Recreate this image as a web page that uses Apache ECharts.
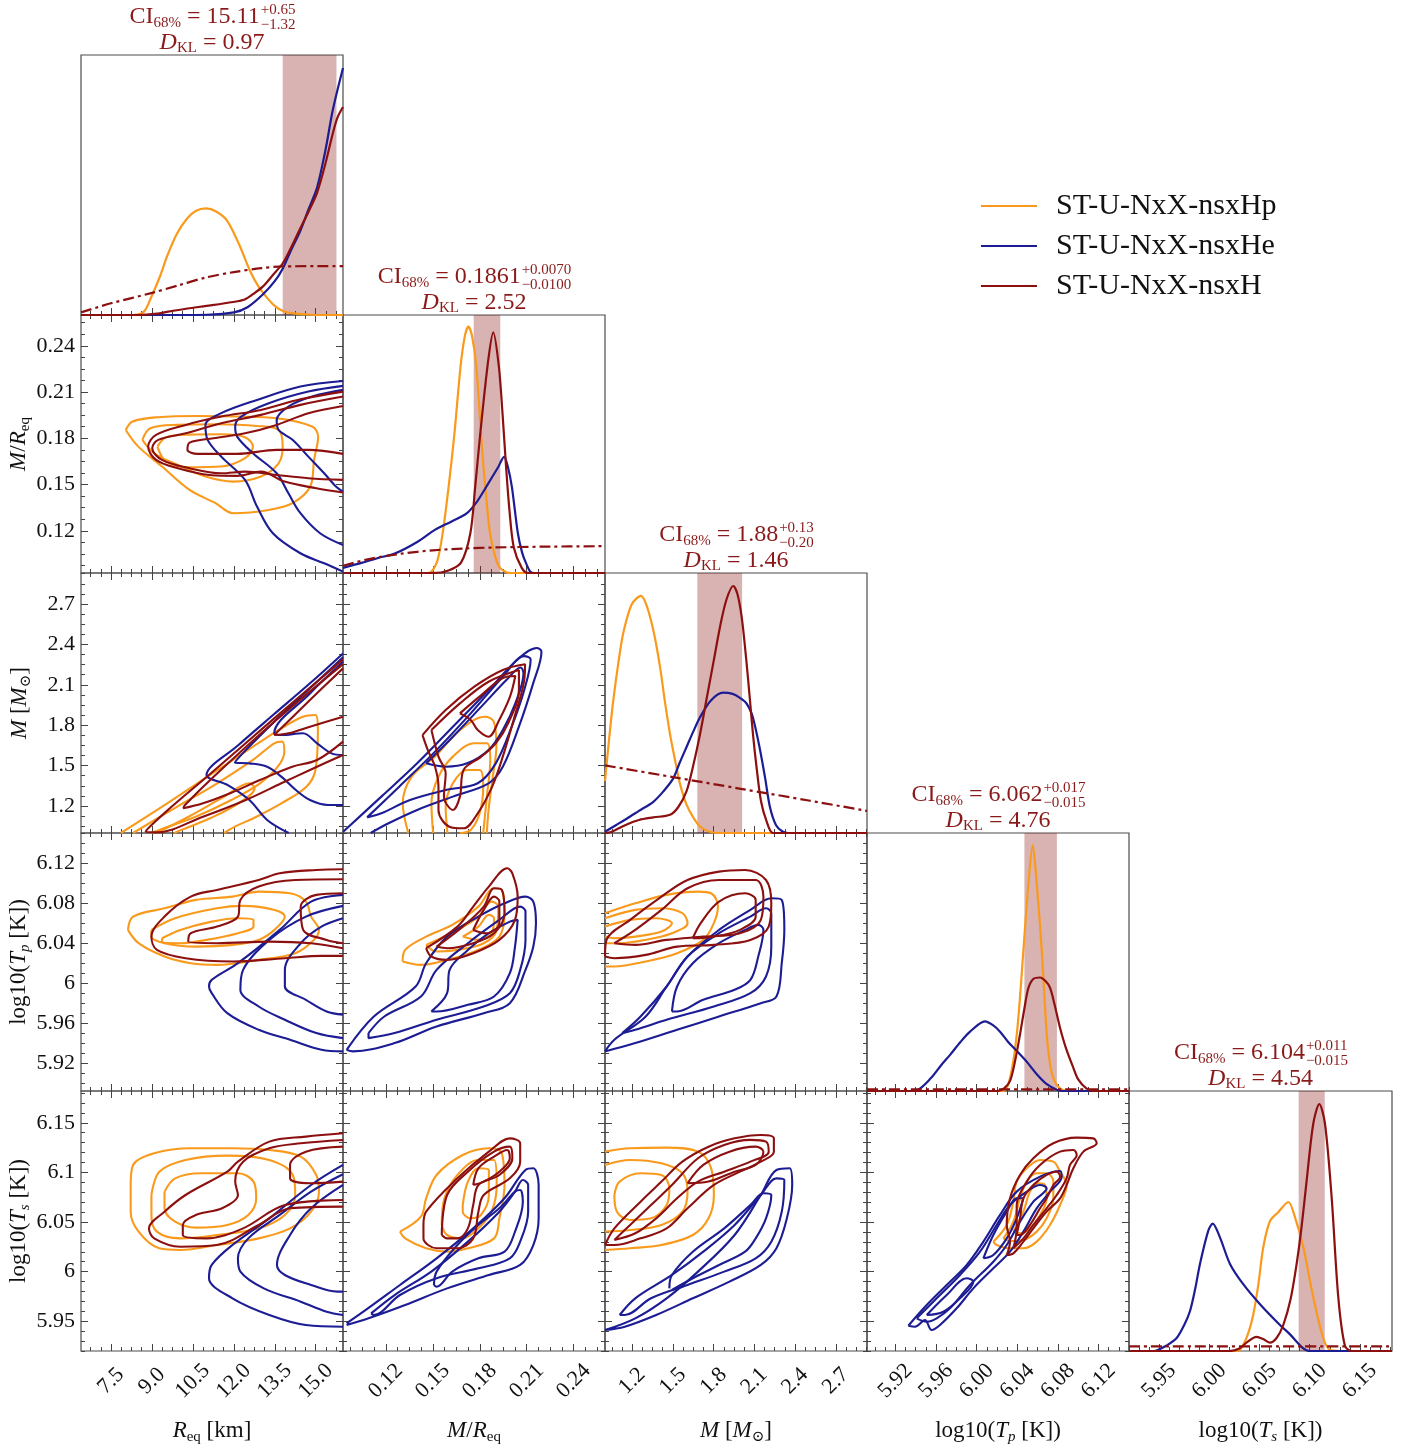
<!DOCTYPE html>
<html>
<head>
<meta charset="utf-8">
<script src="https://cdn.jsdelivr.net/npm/echarts@6/dist/echarts.min.js"></script>
<style>
  html, body { margin: 0; padding: 0; background: #ffffff; }
  #chart { width: 1413px; height: 1449px; }
</style>
</head>
<body>
<div id="chart"></div>
<script>
// ---------------------------------------------------------------------------
// Parameters: 0 R_eq, 1 M/R_eq, 2 M, 3 log10(Tp), 4 log10(Ts)
// ---------------------------------------------------------------------------
const NAMES = ['ST-U-NxX-nsxHp', 'ST-U-NxX-nsxHe', 'ST-U-NxX-nsxH'];
const COLORS = ['#f99a1c', '#1c1c94', '#8c1010'];
const PRIOR_COLOR = '#8c1010';
const TITLE_COLOR = '#8a1a1a';

const axisMin = [6.4, 0.0926, 1.0, 5.892, 5.92];
const axisMax = [16.0, 0.26, 2.93, 6.15, 6.182];

const ticksReq  = [7.5, 9.0, 10.5, 12.0, 13.5, 15.0];
const ticksMr   = [0.12, 0.15, 0.18, 0.21, 0.24];
const ticksMass = [1.2, 1.5, 1.8, 2.1, 2.4, 2.7];
const ticksTp   = [5.92, 5.96, 6.00, 6.04, 6.08, 6.12];
const ticksTs   = [5.95, 6.00, 6.05, 6.10, 6.15];
const minorDiv  = [4, 4, 4, 4, 5];

const bottomReq  = ['7.5', '9.0', '10.5', '12.0', '13.5', '15.0'];
const bottomMr   = ['0.12', '0.15', '0.18', '0.21', '0.24'];
const bottomMass = ['1.2', '1.5', '1.8', '2.1', '2.4', '2.7'];
const bottomTp   = ['5.92', '5.96', '6.00', '6.04', '6.08', '6.12'];
const bottomTs   = ['5.95', '6.00', '6.05', '6.10', '6.15'];
const leftMr   = ['0.12', '0.15', '0.18', '0.21', '0.24'];
const leftMass = ['1.2', '1.5', '1.8', '2.1', '2.4', '2.7'];
const leftTp   = ['5.92', '5.96', '6', '6.04', '6.08', '6.12'];
const leftTs   = ['5.95', '6', '6.05', '6.1', '6.15'];

const axisTitles = [
  '{i|R}{s|eq} [km]',
  '{i|M}/{i|R}{s|eq}',
  '{i|M} [{i|M}{s|\u2299}]',
  'log10({i|T}{si|p} [K])',
  'log10({i|T}{si|s} [K])'
];

// 68% credible intervals and KL divergences shown above each marginal
const ciCentre = ['15.11', '0.1861', '1.88', '6.062', '6.104'];
const ciPlus   = ['0.65', '0.0070', '0.13', '0.017', '0.011'];
const ciMinus  = ['1.32', '0.0100', '0.20', '0.015', '0.015'];
const dklText  = ['0.97', '2.52', '1.46', '4.76', '4.54'];

// ---------------------------------------------------------------------------
// 1D marginal densities (height relative to panel)
// ---------------------------------------------------------------------------
const pdfReq_Hp = [[6.4,0],[8.3,0],[8.7,0.012],[9.0,0.075],[9.3,0.15],[9.55,0.225],[9.9,0.31],[10.28,0.37],[10.6,0.40],[10.98,0.41],[11.35,0.398],[11.75,0.363],[12.2,0.27],[12.59,0.17],[12.9,0.11],[13.22,0.066],[13.5,0.035],[13.8,0.015],[14.2,0.006],[14.68,0.002],[15.2,0],[16.0,0]];
const pdfReq_He = [[6.4,0],[10.0,0],[11.0,0.001],[12.0,0.01],[12.5,0.03],[13.07,0.08],[13.5,0.13],[13.8,0.18],[14.1,0.25],[14.42,0.32],[14.75,0.41],[15.05,0.49],[15.35,0.63],[15.63,0.79],[16.0,0.95]];
const pdfReq_H  = [[6.4,0],[8.5,0],[9.2,0.005],[9.55,0.012],[10.3,0.025],[11.0,0.035],[11.97,0.05],[12.4,0.06],[12.7,0.08],[13.07,0.11],[13.4,0.15],[13.8,0.2],[14.1,0.26],[14.42,0.33],[14.75,0.40],[15.05,0.47],[15.35,0.58],[15.63,0.70],[15.8,0.76],[16.0,0.80]];
const priorReq  = [[6.4,0.01],[7.5,0.045],[9.0,0.085],[10.0,0.115],[11.0,0.145],[12.0,0.165],[13.0,0.18],[13.8,0.187],[16.0,0.188]];

const pdfMr_Hp = [[0.0926,0],[0.145,0],[0.149,0.005],[0.153,0.05],[0.1563,0.155],[0.160,0.33],[0.1638,0.54],[0.1677,0.80],[0.1705,0.92],[0.1727,0.955],[0.175,0.92],[0.1778,0.80],[0.1815,0.477],[0.1840,0.30],[0.1865,0.155],[0.190,0.06],[0.1929,0.02],[0.197,0.003],[0.20,0],[0.26,0]];
const pdfMr_He = [[0.0926,0.02],[0.105,0.04],[0.115,0.058],[0.126,0.076],[0.14,0.12],[0.1513,0.167],[0.162,0.20],[0.1714,0.23],[0.178,0.275],[0.1841,0.334],[0.1917,0.41],[0.1955,0.45],[0.198,0.41],[0.2005,0.334],[0.2043,0.155],[0.207,0.08],[0.2094,0.04],[0.2123,0.005],[0.215,0],[0.26,0]];
const pdfMr_H  = [[0.0926,0],[0.15,0],[0.160,0.01],[0.168,0.04],[0.174,0.155],[0.177,0.33],[0.1803,0.54],[0.1853,0.82],[0.1886,0.933],[0.1922,0.80],[0.1945,0.62],[0.1967,0.42],[0.199,0.24],[0.2017,0.10],[0.2068,0.02],[0.211,0],[0.26,0]];
const priorMr  = [[0.0926,0.028],[0.11,0.055],[0.13,0.075],[0.15,0.088],[0.17,0.095],[0.19,0.099],[0.22,0.102],[0.26,0.104]];

const pdfMass_Hp = [[1.0,0.20],[1.03,0.36],[1.061,0.51],[1.10,0.66],[1.135,0.77],[1.197,0.88],[1.265,0.912],[1.31,0.87],[1.36,0.77],[1.405,0.64],[1.44,0.51],[1.479,0.38],[1.52,0.27],[1.552,0.19],[1.60,0.11],[1.65,0.06],[1.70,0.025],[1.77,0.005],[1.85,0],[2.93,0]];
const pdfMass_He = [[1.0,0.005],[1.08,0.03],[1.16,0.055],[1.25,0.085],[1.356,0.12],[1.43,0.16],[1.503,0.21],[1.55,0.27],[1.60,0.33],[1.65,0.39],[1.70,0.445],[1.78,0.51],[1.871,0.54],[1.94,0.535],[1.994,0.52],[2.04,0.50],[2.08,0.46],[2.11,0.40],[2.142,0.32],[2.18,0.21],[2.215,0.10],[2.26,0.03],[2.31,0.005],[2.35,0],[2.93,0]];
const pdfMass_H  = [[1.0,0],[1.05,0.005],[1.16,0.033],[1.25,0.05],[1.356,0.06],[1.479,0.07],[1.54,0.10],[1.60,0.16],[1.65,0.26],[1.70,0.38],[1.75,0.52],[1.80,0.66],[1.85,0.80],[1.896,0.90],[1.945,0.95],[1.975,0.92],[2.007,0.83],[2.04,0.67],[2.068,0.51],[2.09,0.38],[2.117,0.25],[2.15,0.12],[2.19,0.046],[2.24,0],[2.93,0]];
const priorMass  = [[1.0,0.26],[1.5,0.215],[2.0,0.17],[2.5,0.125],[2.93,0.085]];

const pdfTp_Hp = [[5.892,0],[6.025,0],[6.0296,0.01],[6.035,0.09],[6.0395,0.22],[6.043,0.38],[6.046,0.545],[6.0509,0.80],[6.0552,0.953],[6.0592,0.80],[6.0641,0.545],[6.069,0.22],[6.072,0.11],[6.0755,0.05],[6.082,0.01],[6.09,0],[6.15,0]];
const pdfTp_He = [[5.892,0],[5.935,0],[5.941,0.002],[5.955,0.05],[5.965,0.10],[5.9738,0.14],[5.984,0.19],[5.9935,0.23],[6.0082,0.27],[6.016,0.255],[6.023,0.23],[6.031,0.19],[6.0395,0.155],[6.05,0.11],[6.0592,0.065],[6.068,0.03],[6.0789,0.005],[6.085,0],[6.15,0]];
const pdfTp_H  = [[5.892,0],[6.02,0],[6.027,0.01],[6.033,0.04],[6.038,0.12],[6.0427,0.22],[6.047,0.32],[6.051,0.40],[6.056,0.435],[6.0624,0.44],[6.068,0.425],[6.0723,0.40],[6.077,0.33],[6.082,0.246],[6.088,0.165],[6.0952,0.09],[6.10,0.045],[6.108,0.01],[6.115,0],[6.15,0]];
const priorTp  = [[5.892,0.006],[6.15,0.006]];

const pdfTs_Hp = [[5.92,0],[6.025,0],[6.0306,0.005],[6.038,0.06],[6.0438,0.14],[6.049,0.26],[6.0538,0.40],[6.0605,0.50],[6.0687,0.534],[6.0787,0.573],[6.0853,0.515],[6.0936,0.40],[6.1036,0.206],[6.1135,0.05],[6.12,0.005],[6.13,0],[6.182,0]];
const pdfTs_He = [[5.92,0],[5.945,0],[5.9476,0.002],[5.957,0.02],[5.9675,0.05],[5.975,0.10],[5.9808,0.154],[5.986,0.24],[5.9907,0.335],[5.999,0.463],[6.0034,0.49],[6.0106,0.437],[6.0206,0.335],[6.0338,0.257],[6.0505,0.18],[6.0704,0.10],[6.0804,0.064],[6.0936,0.01],[6.10,0],[6.182,0]];
const pdfTs_H  = [[5.92,0],[6.02,0],[6.03,0.01],[6.038,0.035],[6.047,0.054],[6.054,0.045],[6.0605,0.032],[6.067,0.05],[6.0737,0.10],[6.081,0.20],[6.087,0.335],[6.092,0.48],[6.097,0.656],[6.1036,0.875],[6.1096,0.95],[6.1152,0.875],[6.1219,0.59],[6.1285,0.206],[6.1351,0.02],[6.142,0],[6.182,0]];
const priorTs  = [[5.92,0.018],[6.182,0.018]];

// ---------------------------------------------------------------------------
// 2D credible-region contours (outer, middle, inner), in data units
// ---------------------------------------------------------------------------
// M/R_eq vs R_eq
const mrReq_Hp = [
  [[8.04,0.1854],[8.29,0.1909],[9.22,0.1937],[10.67,0.1945],[12.12,0.1941],[13.57,0.1930],[14.87,0.1876],[15.09,0.1811],[14.94,0.1660],[14.80,0.1487],[14.15,0.1379],[13.28,0.1335],[11.98,0.1314],[11.33,0.1379],[10.38,0.1465],[9.37,0.1617],[8.50,0.1746],[8.04,0.1854]],
  [[8.65,0.1790],[8.94,0.1865],[9.95,0.1887],[11.40,0.1891],[12.85,0.1880],[13.64,0.1854],[13.79,0.1746],[13.64,0.1638],[12.99,0.1552],[11.98,0.1519],[10.96,0.1552],[9.95,0.1627],[9.08,0.1703],[8.65,0.1790]],
  [[9.20,0.1746],[9.52,0.1807],[10.38,0.1824],[11.54,0.1826],[12.41,0.1807],[12.70,0.1746],[12.41,0.1671],[11.54,0.1617],[10.38,0.1612],[9.52,0.1649],[9.20,0.1746]]
];
const mrReq_He = [
  [[16.0,0.2172],[14.44,0.2136],[12.85,0.2049],[11.54,0.1963],[10.96,0.1887],[11.04,0.1790],[11.54,0.1681],[12.41,0.1530],[12.85,0.1357],[13.43,0.1184],[14.44,0.1054],[15.31,0.0989],[16.0,0.0935]],
  [[16.0,0.2140],[14.73,0.2103],[13.28,0.2027],[12.27,0.1941],[12.05,0.1876],[12.12,0.1811],[12.70,0.1703],[13.57,0.1573],[14.00,0.1443],[14.44,0.1314],[15.16,0.1184],[16.0,0.1108]],
  [[16.0,0.2114],[14.87,0.2071],[14.00,0.2006],[13.57,0.1919],[13.64,0.1854],[14.15,0.1790],[14.73,0.1681],[15.31,0.1573],[15.74,0.1487],[16.0,0.1454]]
];
const mrReq_H = [
  [[16.0,0.2103],[14.44,0.2053],[12.99,0.1984],[11.54,0.1941],[10.24,0.1887],[9.15,0.1822],[8.86,0.1746],[9.15,0.1660],[9.95,0.1606],[11.11,0.1562],[12.12,0.1556],[12.99,0.1584],[13.86,0.1519],[15.02,0.1476],[16.0,0.1448]],
  [[16.0,0.2071],[14.44,0.2017],[12.99,0.1952],[11.54,0.1898],[10.24,0.1833],[9.23,0.1790],[9.01,0.1736],[9.37,0.1660],[10.38,0.1606],[11.54,0.1573],[12.41,0.1584],[13.57,0.1562],[14.73,0.1541],[16.0,0.1530]],
  [[16.0,0.2010],[14.73,0.1963],[13.57,0.1887],[12.41,0.1833],[11.25,0.1800],[10.38,0.1772],[10.30,0.1725],[10.67,0.1699],[12.12,0.1699],[13.57,0.1725],[14.73,0.1725],[16.0,0.1699]]
];

// M vs R_eq
const mReq_Hp = [
  [[7.86,1.0],[9.56,1.220],[11.13,1.431],[12.70,1.641],[13.74,1.777],[14.53,1.863],[14.99,1.876],[15.08,1.764],[14.99,1.468],[14.66,1.344],[13.74,1.220],[12.83,1.121],[12.04,1.047],[11.65,1.0]],
  [[8.31,1.0],[9.82,1.183],[11.39,1.369],[12.70,1.542],[13.48,1.666],[13.77,1.678],[13.85,1.604],[13.61,1.492],[12.96,1.369],[11.91,1.245],[10.60,1.121],[9.43,1.035],[8.97,1.0]],
  [[9.16,1.0],[10.34,1.121],[11.65,1.270],[12.57,1.369],[12.76,1.332],[12.17,1.220],[11.13,1.109],[10.08,1.023],[9.82,1.0]]
];
const mReq_He = [
  [[16.0,2.333],[14.79,2.111],[13.48,1.883],[12.17,1.653],[11.00,1.431],[11.78,1.356],[12.57,1.245],[13.22,1.097],[14.01,1.0]],
  [[16.0,2.304],[14.79,2.074],[13.48,1.826],[12.04,1.522],[12.57,1.517],[13.22,1.492],[13.74,1.418],[14.27,1.319],[14.79,1.245],[15.45,1.208],[16.0,1.208]],
  [[16.0,2.271],[14.79,2.036],[13.48,1.740],[13.74,1.727],[14.53,1.740],[15.05,1.666],[15.58,1.591],[16.0,1.579]]
];
const mReq_H = [
  [[16.0,2.289],[13.48,1.851],[11.13,1.438],[9.56,1.166],[8.77,1.010],[9.16,1.005],[10.87,1.121],[12.44,1.245],[13.74,1.369],[14.79,1.468],[16.0,1.579]],
  [[16.0,2.254],[13.48,1.826],[11.26,1.418],[10.21,1.208],[10.15,1.183],[10.87,1.220],[11.91,1.299],[12.96,1.393],[14.14,1.492],[15.05,1.542],[16.0,1.678]],
  [[16.0,2.222],[14.79,1.987],[13.48,1.727],[14.01,1.740],[14.79,1.789],[16.0,1.863]]
];

// M vs M/R_eq
const mMr_Hp = [
  [[0.1343,1.0],[0.1308,1.220],[0.1365,1.418],[0.1514,1.567],[0.1673,1.764],[0.1833,1.863],[0.1890,1.826],[0.1906,1.641],[0.1883,1.418],[0.1856,1.171],[0.1845,1.0]],
  [[0.1502,1.0],[0.1491,1.220],[0.1536,1.418],[0.1628,1.567],[0.1765,1.666],[0.1845,1.666],[0.1867,1.542],[0.1845,1.270],[0.1822,1.0]],
  [[0.1593,1.0],[0.1582,1.196],[0.1628,1.369],[0.1719,1.468],[0.1799,1.468],[0.1822,1.344],[0.1799,1.146],[0.1742,1.023],[0.1673,1.0]]
];
const mMr_He = [
  [[0.0927,1.010],[0.1171,1.270],[0.1400,1.517],[0.1628,1.789],[0.1856,2.061],[0.2038,2.284],[0.2164,2.373],[0.2194,2.346],[0.2141,2.111],[0.2050,1.789],[0.1947,1.492],[0.1856,1.369],[0.1628,1.270],[0.1400,1.171],[0.1217,1.072],[0.1103,1.0]],
  [[0.1080,1.116],[0.1285,1.344],[0.1514,1.604],[0.1742,1.888],[0.1947,2.160],[0.2084,2.313],[0.2125,2.289],[0.2084,2.061],[0.2004,1.789],[0.1902,1.517],[0.1787,1.369],[0.1582,1.319],[0.1354,1.245],[0.1171,1.146],[0.1080,1.116]],
  [[0.1457,1.517],[0.1628,1.715],[0.1810,1.938],[0.1970,2.135],[0.2061,2.229],[0.2079,2.185],[0.2027,1.962],[0.1947,1.764],[0.1856,1.616],[0.1719,1.517],[0.1582,1.492],[0.1457,1.517]]
];
const mMr_H = [
  [[0.1434,1.727],[0.1582,1.913],[0.1765,2.086],[0.1947,2.210],[0.2089,2.252],[0.2084,2.135],[0.2016,1.839],[0.1947,1.567],[0.1879,1.344],[0.1787,1.146],[0.1696,1.035],[0.1605,1.047],[0.1536,1.171],[0.1536,1.344],[0.1514,1.492],[0.1468,1.616],[0.1434,1.727]],
  [[0.1491,1.764],[0.1673,1.962],[0.1856,2.123],[0.2050,2.210],[0.2050,2.061],[0.1981,1.814],[0.1902,1.666],[0.1810,1.567],[0.1696,1.468],[0.1673,1.270],[0.1628,1.171],[0.1571,1.270],[0.1582,1.443],[0.1536,1.567],[0.1491,1.764]],
  [[0.1673,1.888],[0.1810,2.024],[0.1970,2.160],[0.2027,2.165],[0.1993,2.012],[0.1924,1.839],[0.1856,1.715],[0.1787,1.764],[0.1742,1.839],[0.1673,1.888]]
];

// log10(Tp) vs R_eq
const tpReq_Hp = [
  [[8.12,6.0531],[8.31,6.0664],[9.46,6.0747],[10.61,6.0831],[11.95,6.0864],[12.91,6.0914],[14.06,6.0897],[14.64,6.0814],[14.83,6.0664],[15.12,6.0531],[14.93,6.0431],[14.25,6.0298],[12.91,6.0231],[11.38,6.0181],[10.42,6.0198],[9.46,6.0265],[8.51,6.0398],[8.12,6.0531]],
  [[8.98,6.0531],[9.85,6.0648],[11.38,6.0747],[12.34,6.0771],[13.49,6.0731],[13.87,6.0664],[13.49,6.0531],[12.91,6.0431],[11.95,6.0381],[10.61,6.0364],[9.46,6.0398],[8.98,6.0464],[8.98,6.0531]],
  [[9.37,6.0448],[10.04,6.0531],[11.19,6.0614],[12.15,6.0648],[12.72,6.0631],[12.72,6.0564],[12.15,6.0498],[11.00,6.0431],[10.04,6.0398],[9.37,6.0414],[9.37,6.0448]]
];
const tpReq_He = [
  [[16.0,6.0881],[14.83,6.0814],[13.68,6.0531],[12.15,6.0198],[11.19,6.0031],[11.09,5.9965],[11.19,5.9898],[11.76,5.9698],[12.91,5.9532],[14.06,5.9432],[15.21,5.9332],[16.0,5.9316]],
  [[16.0,6.0771],[14.64,6.0664],[13.30,6.0431],[12.34,6.0131],[12.24,5.9932],[12.91,5.9765],[13.87,5.9632],[15.02,5.9499],[16.0,5.9449]],
  [[16.0,6.0648],[15.21,6.0564],[14.45,6.0398],[13.87,6.0131],[13.87,5.9965],[14.64,5.9832],[15.40,5.9715],[16.0,5.9682]]
];
const tpReq_H = [
  [[16.0,6.1137],[15.02,6.1130],[13.68,6.1097],[12.91,6.1030],[11.38,6.0931],[10.42,6.0864],[9.46,6.0664],[8.98,6.0464],[9.18,6.0331],[10.23,6.0248],[11.95,6.0215],[13.87,6.0248],[15.21,6.0271],[16.0,6.0271]],
  [[16.0,6.1037],[14.25,6.1030],[12.91,6.0964],[12.24,6.0831],[12.15,6.0664],[11.38,6.0564],[10.42,6.0498],[10.33,6.0414],[11.38,6.0398],[13.30,6.0414],[14.83,6.0398],[16.0,6.0348]],
  [[16.0,6.0897],[15.02,6.0881],[14.45,6.0764],[14.54,6.0531],[15.40,6.0431],[16.0,6.0398]]
];

// log10(Tp) vs M/R_eq
const tpMr_Hp = [
  [[0.1307,6.0215],[0.1323,6.0331],[0.1457,6.0464],[0.1624,6.0581],[0.1791,6.0764],[0.1891,6.0947],[0.1941,6.0931],[0.1958,6.0698],[0.1925,6.0464],[0.1791,6.0331],[0.1591,6.0231],[0.1424,6.0181],[0.1307,6.0215]],
  [[0.1457,6.0381],[0.1657,6.0531],[0.1791,6.0664],[0.1875,6.0814],[0.1918,6.0764],[0.1908,6.0531],[0.1825,6.0398],[0.1657,6.0331],[0.1524,6.0315],[0.1457,6.0381]],
  [[0.1691,6.0464],[0.1791,6.0564],[0.1858,6.0681],[0.1891,6.0648],[0.1875,6.0498],[0.1791,6.0431],[0.1691,6.0464]]
];
const tpMr_He = [
  [[0.0949,5.9332],[0.1123,5.9665],[0.1390,5.9965],[0.1457,6.0198],[0.1591,6.0464],[0.1791,6.0664],[0.1958,6.0797],[0.2092,6.0864],[0.2142,6.0814],[0.2159,6.0598],[0.2142,6.0364],[0.2092,6.0131],[0.1992,5.9798],[0.1825,5.9698],[0.1524,5.9565],[0.1256,5.9399],[0.0989,5.9316],[0.0949,5.9332]],
  [[0.1089,5.9499],[0.1190,5.9665],[0.1424,5.9865],[0.1524,6.0131],[0.1724,6.0398],[0.1925,6.0631],[0.2058,6.0764],[0.2092,6.0714],[0.2092,6.0431],[0.2058,6.0131],[0.1992,5.9898],[0.1825,5.9765],[0.1524,5.9632],[0.1256,5.9499],[0.1089,5.9449],[0.1089,5.9499]],
  [[0.1490,5.9715],[0.1591,5.9898],[0.1607,6.0131],[0.1724,6.0331],[0.1858,6.0498],[0.1992,6.0614],[0.2042,6.0631],[0.2025,6.0364],[0.1992,6.0098],[0.1891,5.9865],[0.1724,5.9782],[0.1524,5.9715],[0.1490,5.9715]]
];
const tpMr_H = [
  [[0.1457,6.0348],[0.1657,6.0564],[0.1758,6.0764],[0.1858,6.0964],[0.1975,6.1147],[0.2008,6.1097],[0.2042,6.0864],[0.2025,6.0631],[0.1925,6.0431],[0.1758,6.0298],[0.1591,6.0231],[0.1490,6.0265],[0.1457,6.0348]],
  [[0.1524,6.0364],[0.1691,6.0564],[0.1825,6.0764],[0.1891,6.0947],[0.1941,6.0931],[0.1958,6.0698],[0.1891,6.0498],[0.1758,6.0398],[0.1591,6.0348],[0.1524,6.0364]],
  [[0.1758,6.0531],[0.1825,6.0731],[0.1891,6.0864],[0.1925,6.0814],[0.1925,6.0598],[0.1841,6.0498],[0.1758,6.0531]]
];

// log10(Tp) vs M
const tpMass_Hp = [
  [[1.0,6.0698],[1.223,6.0797],[1.454,6.0881],[1.685,6.0914],[1.782,6.0897],[1.832,6.0764],[1.802,6.0598],[1.724,6.0431],[1.531,6.0298],[1.300,6.0215],[1.069,6.0165],[1.0,6.0165]],
  [[1.0,6.0648],[1.223,6.0731],[1.416,6.0747],[1.570,6.0698],[1.608,6.0598],[1.493,6.0498],[1.300,6.0431],[1.108,6.0398],[1.0,6.0398]],
  [[1.0,6.0564],[1.185,6.0631],[1.377,6.0648],[1.493,6.0598],[1.416,6.0514],[1.223,6.0464],[1.069,6.0448],[1.0,6.0464]]
];
const tpMass_He = [
  [[1.0,5.9316],[1.069,5.9432],[1.300,5.9665],[1.454,5.9965],[1.608,6.0265],[1.840,6.0531],[2.071,6.0731],[2.225,6.0847],[2.302,6.0831],[2.321,6.0531],[2.302,6.0198],[2.263,5.9865],[2.148,5.9798],[1.840,5.9665],[1.531,5.9532],[1.223,5.9399],[1.0,5.9316]],
  [[1.127,5.9499],[1.262,5.9665],[1.454,5.9965],[1.608,6.0265],[1.840,6.0498],[2.071,6.0664],[2.186,6.0747],[2.225,6.0698],[2.225,6.0364],[2.186,6.0065],[2.071,5.9898],[1.802,5.9765],[1.454,5.9632],[1.223,5.9532],[1.127,5.9499]],
  [[1.493,5.9715],[1.531,5.9965],[1.647,6.0198],[1.840,6.0398],[2.032,6.0531],[2.129,6.0581],[2.167,6.0531],[2.129,6.0265],[2.071,6.0031],[1.955,5.9932],[1.724,5.9832],[1.531,5.9715],[1.493,5.9715]]
];
const tpMass_H = [
  [[1.0,6.0265],[1.011,6.0431],[1.185,6.0631],[1.416,6.0864],[1.608,6.1030],[1.840,6.1114],[2.032,6.1130],[2.186,6.1030],[2.225,6.0797],[2.206,6.0564],[2.071,6.0431],[1.802,6.0381],[1.531,6.0364],[1.300,6.0281],[1.069,6.0248],[1.0,6.0265]],
  [[1.069,6.0398],[1.223,6.0531],[1.416,6.0731],[1.608,6.0947],[1.840,6.1030],[2.110,6.1030],[2.167,6.0864],[2.148,6.0631],[1.994,6.0498],[1.724,6.0464],[1.454,6.0431],[1.223,6.0381],[1.069,6.0398]],
  [[1.647,6.0448],[1.705,6.0598],[1.840,6.0814],[2.032,6.0897],[2.110,6.0831],[2.110,6.0664],[1.994,6.0531],[1.802,6.0464],[1.647,6.0448]]
];

// log10(Ts) vs R_eq
const tsReq_Hp = [
  [[8.22,6.0873],[8.31,6.1075],[9.08,6.1192],[10.42,6.1243],[11.95,6.1243],[13.30,6.1226],[14.45,6.1159],[15.02,6.0974],[15.12,6.0806],[14.83,6.0604],[14.06,6.0436],[12.91,6.0335],[11.38,6.0268],[10.04,6.0218],[9.27,6.0235],[8.51,6.0403],[8.22,6.0604],[8.22,6.0873]],
  [[8.98,6.0772],[9.27,6.1007],[10.23,6.1125],[11.76,6.1169],[13.30,6.1125],[14.16,6.0974],[14.25,6.0772],[13.87,6.0571],[12.91,6.0436],[11.38,6.0369],[10.04,6.0335],[9.18,6.0403],[8.98,6.0571],[8.98,6.0772]],
  [[9.46,6.0806],[9.85,6.0940],[10.81,6.0991],[12.15,6.0991],[12.72,6.0907],[12.82,6.0739],[12.53,6.0571],[11.76,6.0470],[10.61,6.0443],[9.85,6.0503],[9.46,6.0638],[9.46,6.0806]]
];
const tsReq_He = [
  [[16.0,6.1075],[14.83,6.0873],[13.30,6.0537],[11.95,6.0268],[11.19,6.0067],[11.09,5.9933],[11.95,5.9731],[13.30,5.9563],[14.64,5.9462],[16.0,5.9445]],
  [[16.0,6.0981],[14.83,6.0806],[13.68,6.0571],[12.53,6.0335],[12.15,6.0134],[12.24,6.0],[13.10,5.9831],[14.45,5.9697],[15.40,5.9596],[16.0,5.9563]],
  [[16.0,6.0873],[14.83,6.0638],[14.06,6.0369],[13.58,6.0067],[13.87,5.9966],[14.83,5.9865],[15.79,5.9798],[16.0,5.9798]]
];
const tsReq_H = [
  [[16.0,6.1394],[14.64,6.1360],[13.30,6.1310],[12.15,6.1108],[11.76,6.1007],[10.23,6.0772],[9.46,6.0604],[8.89,6.0436],[9.08,6.0335],[10.04,6.0251],[11.38,6.0268],[12.91,6.0470],[14.06,6.0638],[16.0,6.0655]],
  [[16.0,6.1327],[14.45,6.1293],[13.30,6.1243],[12.34,6.1108],[12.05,6.0907],[12.15,6.0772],[11.57,6.0638],[10.61,6.0571],[10.13,6.0470],[10.13,6.0369],[11.00,6.0335],[12.34,6.0436],[13.87,6.0671],[16.0,6.0722]],
  [[16.0,6.1259],[14.64,6.1209],[14.06,6.1075],[14.06,6.0940],[14.83,6.0890],[16.0,6.0907]]
];

// log10(Ts) vs M/R_eq
const tsMr_Hp = [
  [[0.1290,6.0403],[0.1424,6.0554],[0.1457,6.0739],[0.1524,6.0974],[0.1691,6.1175],[0.1858,6.1243],[0.1941,6.1192],[0.1958,6.0873],[0.1925,6.0537],[0.1891,6.0335],[0.1724,6.0235],[0.1591,6.0201],[0.1457,6.0235],[0.1323,6.0335],[0.1290,6.0403]],
  [[0.1557,6.0470],[0.1574,6.0739],[0.1657,6.0974],[0.1791,6.1125],[0.1891,6.1125],[0.1908,6.0873],[0.1875,6.0604],[0.1791,6.0436],[0.1691,6.0335],[0.1591,6.0369],[0.1557,6.0470]],
  [[0.1691,6.0671],[0.1724,6.0907],[0.1791,6.1041],[0.1858,6.1024],[0.1858,6.0772],[0.1808,6.0571],[0.1741,6.0537],[0.1691,6.0604],[0.1691,6.0671]]
];
const tsMr_He = [
  [[0.0949,5.9479],[0.1056,5.9596],[0.1290,5.9865],[0.1524,6.0134],[0.1758,6.0436],[0.1958,6.0739],[0.2092,6.1024],[0.2142,6.1041],[0.2176,6.0873],[0.2176,6.0537],[0.2142,6.0268],[0.2058,6.0067],[0.1858,5.9966],[0.1591,5.9831],[0.1323,5.9663],[0.1089,5.9529],[0.0949,5.9462]],
  [[0.1106,5.9579],[0.1256,5.9764],[0.1490,6.0],[0.1724,6.0302],[0.1925,6.0604],[0.2025,6.0806],[0.2075,6.0923],[0.2109,6.0873],[0.2109,6.0604],[0.2058,6.0302],[0.1992,6.0134],[0.1791,6.0033],[0.1524,5.9933],[0.1290,5.9764],[0.1123,5.9563],[0.1106,5.9579]],
  [[0.1507,5.9865],[0.1524,6.0],[0.1657,6.0268],[0.1791,6.0470],[0.1925,6.0638],[0.2025,6.0806],[0.2058,6.0823],[0.2075,6.0705],[0.2025,6.0403],[0.1958,6.0201],[0.1791,6.0134],[0.1624,6.0],[0.1524,5.9848],[0.1507,5.9865]]
];
const tsMr_H = [
  [[0.1440,6.0470],[0.1457,6.0604],[0.1657,6.0940],[0.1858,6.1209],[0.1992,6.1343],[0.2058,6.1293],[0.2058,6.1108],[0.1992,6.0940],[0.1825,6.0772],[0.1791,6.0604],[0.1758,6.0335],[0.1657,6.0235],[0.1524,6.0235],[0.1440,6.0335],[0.1440,6.0470]],
  [[0.1557,6.0369],[0.1591,6.0772],[0.1724,6.1007],[0.1891,6.1209],[0.1992,6.1259],[0.2008,6.1142],[0.1925,6.0974],[0.1791,6.0873],[0.1758,6.0671],[0.1724,6.0436],[0.1657,6.0335],[0.1591,6.0335],[0.1557,6.0369]],
  [[0.1758,6.0873],[0.1791,6.1041],[0.1891,6.1159],[0.1975,6.1226],[0.1992,6.1142],[0.1925,6.1007],[0.1825,6.0907],[0.1758,6.0873]]
];

// log10(Ts) vs M
const tsMass_Hp = [
  [[1.0,6.1209],[1.185,6.1243],[1.454,6.1249],[1.685,6.1209],[1.782,6.1041],[1.802,6.0772],[1.763,6.0537],[1.647,6.0369],[1.416,6.0268],[1.185,6.0235],[1.0,6.0218]],
  [[1.0,6.1075],[1.185,6.1125],[1.416,6.1091],[1.570,6.0991],[1.608,6.0806],[1.570,6.0604],[1.416,6.0470],[1.185,6.0419],[1.0,6.0403]],
  [[1.069,6.0772],[1.108,6.0907],[1.262,6.0991],[1.416,6.0974],[1.474,6.0839],[1.454,6.0671],[1.339,6.0537],[1.185,6.0520],[1.088,6.0604],[1.069,6.0772]]
];
const tsMass_He = [
  [[1.0,5.9411],[1.223,5.9529],[1.454,5.9731],[1.685,6.0],[1.955,6.0369],[2.148,6.0772],[2.263,6.1024],[2.360,6.1041],[2.379,6.0873],[2.340,6.0537],[2.263,6.0235],[2.148,6.0067],[1.917,5.9899],[1.647,5.9731],[1.377,5.9563],[1.146,5.9445],[1.0,5.9411]],
  [[1.108,5.9563],[1.223,5.9731],[1.493,5.9966],[1.724,6.0201],[1.955,6.0470],[2.148,6.0772],[2.263,6.0940],[2.321,6.0923],[2.302,6.0604],[2.225,6.0302],[2.110,6.0134],[1.878,6.0],[1.608,5.9865],[1.339,5.9731],[1.146,5.9563],[1.108,5.9563]],
  [[1.474,5.9831],[1.493,5.9966],[1.647,6.0201],[1.878,6.0436],[2.071,6.0671],[2.167,6.0789],[2.225,6.0772],[2.186,6.0537],[2.110,6.0335],[2.032,6.0201],[1.840,6.0067],[1.647,5.9933],[1.493,5.9815]]
];
const tsMass_H = [
  [[1.0,6.0268],[1.069,6.0436],[1.262,6.0705],[1.416,6.0907],[1.570,6.1108],[1.763,6.1259],[1.955,6.1343],[2.148,6.1377],[2.244,6.1343],[2.244,6.1209],[2.148,6.1108],[1.994,6.1007],[1.802,6.0873],[1.608,6.0638],[1.454,6.0436],[1.262,6.0335],[1.069,6.0268],[1.0,6.0268]],
  [[1.069,6.0319],[1.185,6.0470],[1.339,6.0671],[1.493,6.0873],[1.685,6.1142],[1.878,6.1276],[2.071,6.1327],[2.186,6.1310],[2.206,6.1209],[2.071,6.1108],[1.878,6.1007],[1.685,6.0907],[1.531,6.0739],[1.377,6.0537],[1.223,6.0386],[1.069,6.0319]],
  [[1.608,6.0890],[1.724,6.1075],[1.917,6.1209],[2.110,6.1259],[2.167,6.1209],[2.110,6.1075],[1.955,6.1007],[1.763,6.0907],[1.608,6.0890]]
];

// log10(Ts) vs log10(Tp)
const tsTp_Hp = [
  [[6.0164,6.0302],[6.0296,6.0470],[6.0361,6.0705],[6.0394,6.0907],[6.0493,6.1041],[6.0624,6.1125],[6.0755,6.1108],[6.0821,6.1007],[6.0886,6.0873],[6.0821,6.0671],[6.0722,6.0470],[6.0591,6.0302],[6.0460,6.0235],[6.0328,6.0235],[6.0197,6.0268],[6.0164,6.0302]],
  [[6.0263,6.0335],[6.0361,6.0503],[6.0427,6.0739],[6.0493,6.0907],[6.0591,6.0991],[6.0689,6.0991],[6.0755,6.0907],[6.0755,6.0739],[6.0689,6.0537],[6.0591,6.0403],[6.0460,6.0319],[6.0328,6.0309],[6.0263,6.0335]],
  [[6.0361,6.0403],[6.0460,6.0604],[6.0525,6.0806],[6.0607,6.0890],[6.0673,6.0873],[6.0689,6.0739],[6.0624,6.0571],[6.0525,6.0436],[6.0427,6.0386],[6.0361,6.0403]]
];
const tsTp_He = [
  [[5.9327,5.9455],[5.9508,5.9663],[5.9705,5.9865],[5.9902,6.0067],[6.0066,6.0302],[6.0230,6.0571],[6.0394,6.0806],[6.0624,6.0957],[6.0821,6.1014],[6.0837,6.0957],[6.0722,6.0806],[6.0591,6.0638],[6.0460,6.0403],[6.0328,6.0201],[6.0164,6.0033],[5.9967,5.9831],[5.9803,5.9630],[5.9639,5.9462],[5.9557,5.9411],[5.9491,5.9512],[5.9393,5.9445],[5.9327,5.9455]],
  [[5.9409,5.9529],[5.9606,5.9731],[5.9836,5.9966],[6.0033,6.0201],[6.0197,6.0470],[6.0328,6.0671],[6.0493,6.0806],[6.0624,6.0873],[6.0689,6.0839],[6.0558,6.0705],[6.0427,6.0503],[6.0296,6.0268],[6.0164,6.0100],[5.9934,5.9865],[5.9737,5.9630],[5.9606,5.9529],[5.9508,5.9495],[5.9409,5.9529]],
  [[5.9508,5.9563],[5.9705,5.9764],[5.9902,5.9933],[5.9967,5.9899],[5.9836,5.9731],[5.9672,5.9596],[5.9508,5.9563]],
  [[6.0066,6.0134],[6.0164,6.0369],[6.0296,6.0604],[6.0394,6.0739],[6.0460,6.0739],[6.0394,6.0537],[6.0296,6.0335],[6.0164,6.0167],[6.0066,6.0134]]
];
const tsTp_H = [
  [[6.0296,6.0167],[6.0328,6.0302],[6.0296,6.0470],[6.0328,6.0739],[6.0427,6.0974],[6.0558,6.1142],[6.0755,6.1293],[6.0985,6.1350],[6.1149,6.1343],[6.1182,6.1293],[6.1051,6.1209],[6.0952,6.1041],[6.0886,6.0873],[6.0821,6.0739],[6.0689,6.0604],[6.0558,6.0436],[6.0460,6.0302],[6.0361,6.0184],[6.0296,6.0167]],
  [[6.0361,6.0235],[6.0394,6.0436],[6.0394,6.0671],[6.0493,6.0907],[6.0624,6.1075],[6.0821,6.1209],[6.0952,6.1226],[6.0985,6.1175],[6.0919,6.1075],[6.0886,6.0940],[6.0788,6.0772],[6.0689,6.0638],[6.0558,6.0470],[6.0460,6.0335],[6.0361,6.0235]],
  [[6.0394,6.0369],[6.0427,6.0537],[6.0460,6.0739],[6.0558,6.0873],[6.0689,6.0974],[6.0788,6.1007],[6.0821,6.0957],[6.0755,6.0873],[6.0689,6.0739],[6.0624,6.0638],[6.0525,6.0470],[6.0427,6.0369],[6.0394,6.0369]]
];

// ---------------------------------------------------------------------------
// Layout of the triangular grid of panels
// ---------------------------------------------------------------------------
const SERIF = "'Liberation Serif','DejaVu Serif',serif";
const COL_LEFT = [81, 343, 605, 867, 1129];
const COL_W = [262, 262, 262, 262, 263];
const ROW_TOP = [55, 315, 573, 833, 1091];
const ROW_H = [260, 258, 260, 258, 260];

const majorTicks = [ticksReq, ticksMr, ticksMass, ticksTp, ticksTs];
const bottomLabels = [bottomReq, bottomMr, bottomMass, bottomTp, bottomTs];
const leftLabels = [null, leftMr, leftMass, leftTp, leftTs];

const pdfSets = [
  [pdfReq_Hp, pdfReq_He, pdfReq_H, priorReq],
  [pdfMr_Hp, pdfMr_He, pdfMr_H, priorMr],
  [pdfMass_Hp, pdfMass_He, pdfMass_H, priorMass],
  [pdfTp_Hp, pdfTp_He, pdfTp_H, priorTp],
  [pdfTs_Hp, pdfTs_He, pdfTs_H, priorTs]
];
const contourPanels = [
  [1, 0, [mrReq_Hp, mrReq_He, mrReq_H]],
  [2, 0, [mReq_Hp, mReq_He, mReq_H]],
  [2, 1, [mMr_Hp, mMr_He, mMr_H]],
  [3, 0, [tpReq_Hp, tpReq_He, tpReq_H]],
  [3, 1, [tpMr_Hp, tpMr_He, tpMr_H]],
  [3, 2, [tpMass_Hp, tpMass_He, tpMass_H]],
  [4, 0, [tsReq_Hp, tsReq_He, tsReq_H]],
  [4, 1, [tsMr_Hp, tsMr_He, tsMr_H]],
  [4, 2, [tsMass_Hp, tsMass_He, tsMass_H]],
  [4, 3, [tsTp_Hp, tsTp_He, tsTp_H]]
];

function minorTicks(v) {
  const maj = majorTicks[v];
  const d = (maj[1] - maj[0]) / minorDiv[v];
  let t = maj[0];
  while (t - d >= axisMin[v] - 1e-9) t -= d;
  const out = [];
  for (; t <= axisMax[v] + 1e-9; t += d) {
    const tt = +t.toFixed(6);
    if (!maj.some(m => Math.abs(m - tt) < d / 10)) out.push(tt);
  }
  return out;
}

function labelFor(list, ticks, val) {
  for (let k = 0; k < ticks.length; k++) if (Math.abs(ticks[k] - val) < 1e-6) return list[k];
  return '';
}

const nameStyle = {
  fontFamily: SERIF, fontSize: 23, color: '#111', lineHeight: 28,
  rich: {
    i: { fontFamily: SERIF, fontSize: 23, fontStyle: 'italic', color: '#111' },
    s: { fontFamily: SERIF, fontSize: 15, color: '#111', verticalAlign: 'bottom', lineHeight: 14 },
    si: { fontFamily: SERIF, fontSize: 15, fontStyle: 'italic', color: '#111', verticalAlign: 'bottom', lineHeight: 14 }
  }
};

function tickAxis(gridIndex, v, position, minor) {
  return {
    type: 'value', gridIndex, position, min: axisMin[v], max: axisMax[v],
    axisLine: { show: false }, splitLine: { show: false }, silent: true,
    axisTick: {
      show: true, inside: true, length: minor ? 4 : 7,
      customValues: minor ? minorTicks(v) : majorTicks[v],
      lineStyle: { color: '#444', width: 1 }
    },
    axisLabel: { show: false }
  };
}

const grids = [], xAxes = [], yAxes = [], series = [], graphics = [];
const panelAxes = {};

for (let r = 0; r < 5; r++) {
  for (let c = 0; c <= r; c++) {
    const g = grids.length;
    grids.push({
      left: COL_LEFT[c], top: ROW_TOP[r], width: COL_W[c], height: ROW_H[r],
      show: true, borderColor: '#4d4d4d', borderWidth: 1.2, backgroundColor: 'transparent',
      containLabel: false, outerBoundsMode: 'none'
    });
    const xi = xAxes.length;
    const xb = tickAxis(g, c, 'bottom', false);
    if (r === 4) {
      xb.axisLabel = {
        show: true, customValues: majorTicks[c],
        formatter: val => labelFor(bottomLabels[c], majorTicks[c], val),
        rotate: 45, align: 'center', verticalAlign: 'middle', margin: 30,
        fontFamily: SERIF, fontSize: 22, color: '#111'
      };
      xb.name = axisTitles[c];
      xb.nameLocation = 'middle';
      xb.nameGap = 66;
      xb.nameTextStyle = nameStyle;
    }
    xAxes.push(xb, tickAxis(g, c, 'bottom', true));
    if (c < r) xAxes.push(tickAxis(g, c, 'top', false), tickAxis(g, c, 'top', true));

    const yi = yAxes.length;
    if (c === r) {
      yAxes.push({ type: 'value', gridIndex: g, min: 0, max: 1, show: false });
    } else {
      const yl = tickAxis(g, r, 'left', false);
      if (c === 0) {
        yl.axisLabel = {
          show: true, customValues: majorTicks[r],
          formatter: val => labelFor(leftLabels[r], majorTicks[r], val),
          margin: 6, fontFamily: SERIF, fontSize: 22, color: '#111'
        };
        yl.name = axisTitles[r];
        yl.nameLocation = 'middle';
        yl.nameGap = 47;
        yl.nameRotate = 90;
        yl.nameTextStyle = nameStyle;
      }
      yAxes.push(yl, tickAxis(g, r, 'left', true), tickAxis(g, r, 'right', false), tickAxis(g, r, 'right', true));
    }
    panelAxes[r + '_' + c] = { x: xi, y: yi };
  }
}

function lineSeries(name, color, ax, data, width, smooth, z) {
  return {
    type: 'line', name, xAxisIndex: ax.x, yAxisIndex: ax.y, data,
    symbol: 'none', showSymbol: false, smooth, silent: true, z,
    lineStyle: { color, width }, itemStyle: { color }, animation: false
  };
}

// Marginal panels: densities, prior and 68% interval band
for (let i = 0; i < 5; i++) {
  const ax = panelAxes[i + '_' + i];
  for (let d = 0; d < 3; d++) series.push(lineSeries(NAMES[d], COLORS[d], ax, pdfSets[i][d], 2.2, 0.3, 3));
  const lo = Number(ciCentre[i]) - Number(ciMinus[i]);
  const hi = Number(ciCentre[i]) + Number(ciPlus[i]);
  const prior = lineSeries('prior', PRIOR_COLOR, ax, pdfSets[i][3], 2.2, 0.3, 4);
  prior.lineStyle.type = [11, 4, 3, 4];
  prior.markArea = {
    silent: true, itemStyle: { color: 'rgba(140,20,20,0.33)' },
    data: [[{ xAxis: lo }, { xAxis: hi }]]
  };
  series.push(prior);
}

// Joint panels: contour lines
contourPanels.forEach(([r, c, sets]) => {
  const ax = panelAxes[r + '_' + c];
  sets.forEach((lines, d) => {
    lines.forEach(line => series.push(lineSeries(NAMES[d], COLORS[d], ax, line, 2.1, 0.35, 2 + d)));
  });
});

// Titles above the marginal panels
const mctx = document.createElement('canvas').getContext('2d');
function textW(str, size, italic) {
  mctx.font = (italic ? 'italic ' : '') + size + 'px "Liberation Serif"';
  return mctx.measureText(str).width;
}
function titleText(str, x, y, size, italic) {
  return {
    type: 'text', x, y, silent: true, z: 100,
    style: {
      text: str, fontFamily: SERIF, fontSize: size, fontStyle: italic ? 'italic' : 'normal',
      fill: TITLE_COLOR, align: 'left', verticalAlign: 'middle'
    }
  };
}
for (let i = 0; i < 5; i++) {
  const cx = COL_LEFT[i] + COL_W[i] / 2;
  const y1 = ROW_TOP[i] - 38;
  const y2 = ROW_TOP[i] - 12;
  const main = ' = ' + ciCentre[i];
  const plus = '+' + ciPlus[i];
  const minus = '\u2212' + ciMinus[i];
  const w1 = textW('CI', 24), w2 = textW('68%', 15), w3 = textW(main, 24);
  const ws = Math.max(textW(plus, 15), textW(minus, 15));
  let x = cx - (w1 + w2 + w3 + ws) / 2;
  graphics.push(titleText('CI', x, y1, 24, false)); x += w1;
  graphics.push(titleText('68%', x, y1 + 6, 15, false)); x += w2;
  graphics.push(titleText(main, x, y1, 24, false)); x += w3 + 1;
  graphics.push(titleText(plus, x, y1 - 7, 15, false));
  graphics.push(titleText(minus, x, y1 + 8, 15, false));

  const d1 = textW('D', 24, true), d2 = textW('KL', 15), d3 = textW(' = ' + dklText[i], 24);
  let xd = cx - (d1 + d2 + d3) / 2;
  graphics.push(titleText('D', xd, y2, 24, true)); xd += d1;
  graphics.push(titleText('KL', xd, y2 + 5, 15, false)); xd += d2;
  graphics.push(titleText(' = ' + dklText[i], xd, y2, 24, false));
}

const chart = echarts.init(document.getElementById('chart'), null, { renderer: 'canvas' });
chart.setOption({
  backgroundColor: '#ffffff',
  animation: false,
  legend: {
    data: NAMES, orient: 'vertical', left: 976, top: 186,
    itemWidth: 56, itemHeight: 2, icon: 'rect', itemGap: 10, selectedMode: false,
    textStyle: { fontFamily: SERIF, fontSize: 30, color: '#111', lineHeight: 30, padding: [0, 0, 0, 14] }
  },
  grid: grids,
  xAxis: xAxes,
  yAxis: yAxes,
  series,
  graphic: { elements: graphics }
});
</script>
</body>
</html>
